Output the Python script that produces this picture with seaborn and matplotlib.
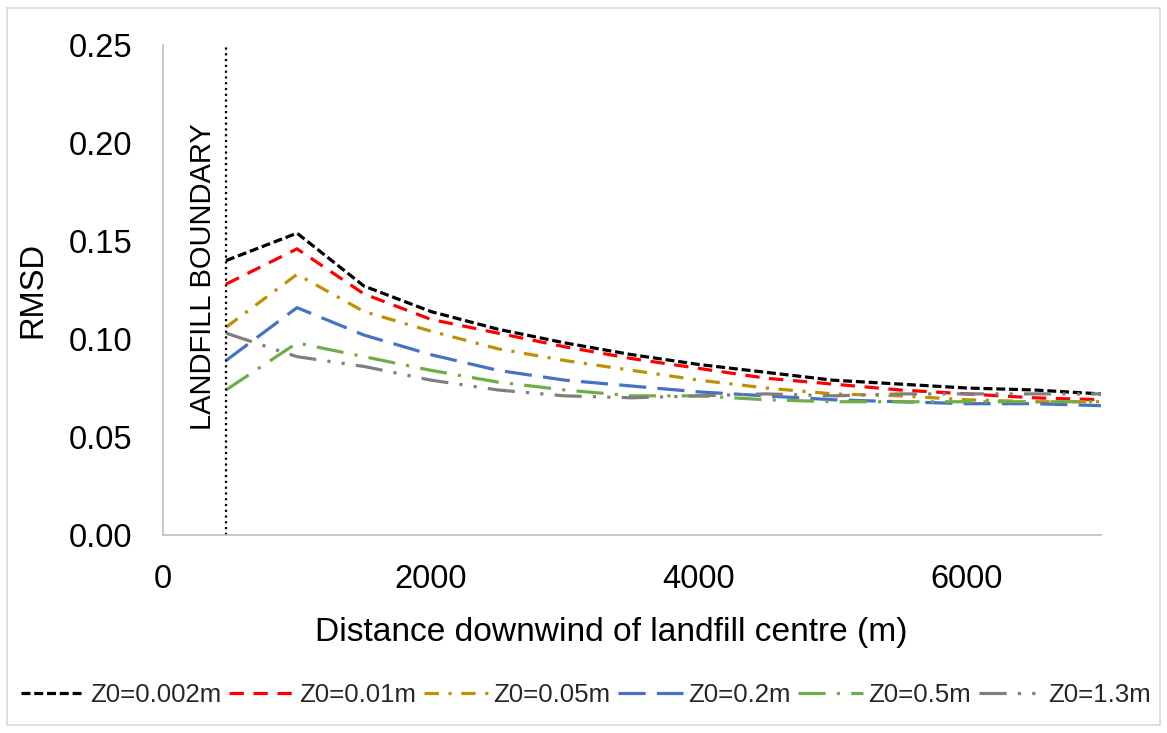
import numpy as np
import pandas as pd
import matplotlib
matplotlib.use("Agg")
import matplotlib.pyplot as plt
from matplotlib.patches import Rectangle
import seaborn as sns

# Downwind distances (m) at which RMSD was evaluated
distance = [470, 1000, 1500, 2000, 2500, 3000, 3500, 4000, 4500, 5000, 5500, 6000, 6500, 7000]

# RMSD for each surface roughness length Z0
rmsd_z0_0002 = [0.140, 0.154, 0.127, 0.114, 0.105, 0.098, 0.092, 0.087, 0.083, 0.079, 0.077, 0.075, 0.074, 0.072]
rmsd_z0_001 = [0.128, 0.146, 0.123, 0.110, 0.103, 0.096, 0.090, 0.085, 0.080, 0.077, 0.074, 0.072, 0.070, 0.069]
rmsd_z0_005 = [0.106, 0.133, 0.114, 0.104, 0.095, 0.089, 0.084, 0.079, 0.075, 0.072, 0.071, 0.069, 0.068, 0.068]
rmsd_z0_02 = [0.089, 0.116, 0.102, 0.092, 0.084, 0.079, 0.076, 0.073, 0.071, 0.069, 0.068, 0.067, 0.067, 0.066]
rmsd_z0_05 = [0.074, 0.098, 0.091, 0.084, 0.078, 0.074, 0.071, 0.071, 0.069, 0.068, 0.068, 0.068, 0.068, 0.068]
rmsd_z0_13 = [0.103, 0.091, 0.086, 0.079, 0.074, 0.071, 0.070, 0.071, 0.072, 0.071, 0.072, 0.072, 0.072, 0.072]

series_labels = ["Z0=0.002m", "Z0=0.01m", "Z0=0.05m", "Z0=0.2m", "Z0=0.5m", "Z0=1.3m"]
series_values = [rmsd_z0_0002, rmsd_z0_001, rmsd_z0_005, rmsd_z0_02, rmsd_z0_05, rmsd_z0_13]

boundary_distance = 470
x_ticks = [0, 2000, 4000, 6000]
y_ticks = [0.00, 0.05, 0.10, 0.15, 0.20, 0.25]

df = pd.DataFrame(
    [(d, v, lab) for lab, vals in zip(series_labels, series_values) for d, v in zip(distance, vals)],
    columns=["distance", "rmsd", "series"],
)

colors = ["#000000", "#FF0000", "#BF9000", "#4472C4", "#70AD47", "#7F7F7F"]
dash_styles = [
    (2.8, 1.2),                         # square dot
    (4.5, 3),                           # dash
    (4.5, 3, 1, 3),                     # dash dot
    (8.5, 3.5),                         # long dash
    (8.5, 3.5, 1, 3.5),                 # long dash dot
    (8.5, 3.5, 1, 3.5, 1, 3.5),         # long dash dot dot
]

sns.set_theme(style="white")
plt.rcParams["font.family"] = ["Liberation Sans", "DejaVu Sans"]

fig = plt.figure(figsize=(11.67, 7.33), dpi=100)
ax = fig.add_axes([0.1397, 0.2701, 0.9434 - 0.1397, 0.9386 - 0.2701])

sns.lineplot(
    data=df, x="distance", y="rmsd", hue="series", style="series",
    hue_order=series_labels, style_order=series_labels,
    palette=colors, dashes=dash_styles, linewidth=2.3, legend=False, ax=ax,
)

# Landfill boundary marker
ax.axvline(boundary_distance, color="black", linestyle=(0, (1, 1.6)), linewidth=1.6)
ax.text(405, 0.0536, "LANDFILL BOUNDARY", rotation=90,
        ha="right", va="bottom", fontsize=21, color="black")

ax.set_xlim(0, 7000)
ax.set_ylim(0, 0.25)
ax.set_xticks(x_ticks)
ax.set_yticks(y_ticks)
ax.set_yticklabels([f"{t:.2f}" for t in y_ticks])

ax.set_xlabel("Distance downwind of landfill centre (m)", fontsize=24.1, color="black")
ax.set_ylabel("RMSD", fontsize=23.6, color="black")
ax.xaxis.set_label_coords(0.4776, -0.168)
ax.yaxis.set_label_coords(-0.1225, 0.5)

for side in ["top", "right"]:
    ax.spines[side].set_visible(False)
for side in ["left", "bottom"]:
    ax.spines[side].set_color("#BFBFBF")
    ax.spines[side].set_linewidth(1.2)

ax.tick_params(axis="both", direction="in", length=7, width=1.2, color="#BFBFBF",
               labelsize=23.5, labelcolor="black", pad=22)
ax.tick_params(axis="x", pad=21)

handles = ax.get_lines()[:len(series_labels)]
fig.legend(
    handles, series_labels, loc="center", bbox_to_anchor=(0.502, 0.052), ncol=6,
    frameon=False, fontsize=18.6, handlelength=2.5, handletextpad=0.2,
    columnspacing=0.3, borderaxespad=0,
)

# Chart area border
fig.add_artist(Rectangle((0.006, 0.011), 0.988, 0.978, transform=fig.transFigure,
                         fill=False, edgecolor="#D9D9D9", linewidth=1.2))

fig.savefig("out.png", dpi=100)
